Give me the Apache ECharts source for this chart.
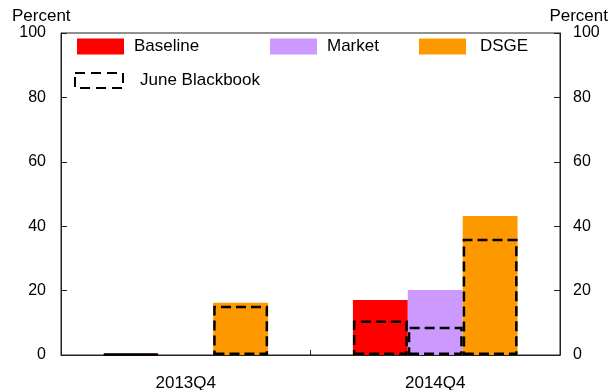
<!DOCTYPE html>
<html>
<head>
<meta charset="utf-8">
<script src="https://cdn.jsdelivr.net/npm/echarts@6/dist/echarts.min.js"></script>
<style>
  html, body { margin: 0; padding: 0; background: #fff; }
  #chart { width: 612px; height: 390px; }
</style>
</head>
<body>
<div id="chart"></div>
<script>
const categories = ['2013Q4', '2014Q4'];
const baseline = [0.4, 17.1];
const market = [null, 20.2];
const dsge = [16.2, 43.2];
const blackbookBaseline = [0.3, 10.7];
const blackbookMarket = [null, 8.8];
const blackbookDsge = [15.3, 36.1];
const yTicks = [0, 20, 40, 60, 80, 100];

const FONT = 'Liberation Sans, Arial, sans-serif';
const chart = echarts.init(document.getElementById('chart'), null, { renderer: 'canvas' });

const dashedStyle = {
  color: 'rgba(0,0,0,0)',
  borderColor: '#000',
  borderWidth: 2.5,
  borderType: [10, 5]
};

function yAxis(pos) {
  return {
    type: 'value', position: pos, min: yTicks[0], max: yTicks[yTicks.length - 1], interval: 20,
    axisLine: { show: true, lineStyle: { color: '#222', width: 1 } },
    axisTick: { show: true, inside: true, length: 6, lineStyle: { color: '#222' } },
    splitLine: { show: false },
    axisLabel: {
      fontFamily: FONT, fontSize: 16, color: '#000',
      margin: pos === 'left' ? 15 : 13
    }
  };
}

const legendText = { fontFamily: FONT, fontSize: 17, color: '#000', padding: [0, 0, 0, 5] };

const option = {
  animation: false,
  backgroundColor: '#fff',
  grid: { left: 61, right: 52, top: 33, bottom: 35, show: true, borderColor: '#222', borderWidth: 1, outerBoundsMode: 'none', containLabel: false },
  legend: [
    { data: ['Baseline'], left: 77, top: 38, padding: 0, itemWidth: 47, itemHeight: 16, icon: 'rect', textStyle: legendText },
    { data: ['Market'], left: 270, top: 38, padding: 0, itemWidth: 47, itemHeight: 16, icon: 'rect', textStyle: legendText },
    { data: ['DSGE'], left: 419, top: 38, padding: 0, itemWidth: 47, itemHeight: 16, icon: 'rect', textStyle: Object.assign({}, legendText, { padding: [0, 0, 0, 9] }) },
    { data: ['June Blackbook'], left: 74, top: 72, padding: 0, itemWidth: 48, itemHeight: 15, icon: 'rect',
      itemStyle: { color: 'rgba(0,0,0,0)', borderColor: '#000', borderWidth: 2, borderType: [10, 6] },
      textStyle: Object.assign({}, legendText, { padding: [0, 0, 0, 12] }) }
  ],
  xAxis: [
    {
      type: 'category', data: categories, position: 'bottom',
      axisLine: { show: true, lineStyle: { color: '#222' } },
      axisTick: { show: true, inside: true, length: 5, lineStyle: { color: '#222' } },
      axisLabel: { fontFamily: FONT, fontSize: 17, color: '#000', margin: 20 }
    },
    {
      type: 'category', data: categories, position: 'bottom', show: false
    }
  ],
  yAxis: [yAxis('left'), yAxis('right')],
  graphic: [
    { type: 'text', left: 12, top: 8, style: { text: 'Percent', fontFamily: FONT, fontSize: 17, fill: '#000' } },
    { type: 'text', right: 4, top: 8, style: { text: 'Percent', fontFamily: FONT, fontSize: 17, fill: '#000' } }
  ],
  series: [
    { name: 'Baseline', type: 'bar', xAxisIndex: 0, data: baseline, itemStyle: { color: '#FF0000' }, barGap: '0%', barCategoryGap: '34%' },
    { name: 'Market', type: 'bar', xAxisIndex: 0, data: market, itemStyle: { color: '#CC99FF' }, barGap: '0%', barCategoryGap: '34%' },
    { name: 'DSGE', type: 'bar', xAxisIndex: 0, data: dsge, itemStyle: { color: '#FF9900' }, barGap: '0%', barCategoryGap: '34%' },
    { name: 'June Blackbook', type: 'bar', xAxisIndex: 1, data: blackbookBaseline, itemStyle: dashedStyle, z: 5, barGap: '0%', barCategoryGap: '34%' },
    { name: 'June Blackbook', type: 'bar', xAxisIndex: 1, data: blackbookMarket, itemStyle: dashedStyle, z: 5, barGap: '0%', barCategoryGap: '34%' },
    { name: 'June Blackbook', type: 'bar', xAxisIndex: 1, data: blackbookDsge, itemStyle: dashedStyle, z: 5, barGap: '0%', barCategoryGap: '34%' }
  ]
};
chart.setOption(option);
</script>
</body>
</html>
